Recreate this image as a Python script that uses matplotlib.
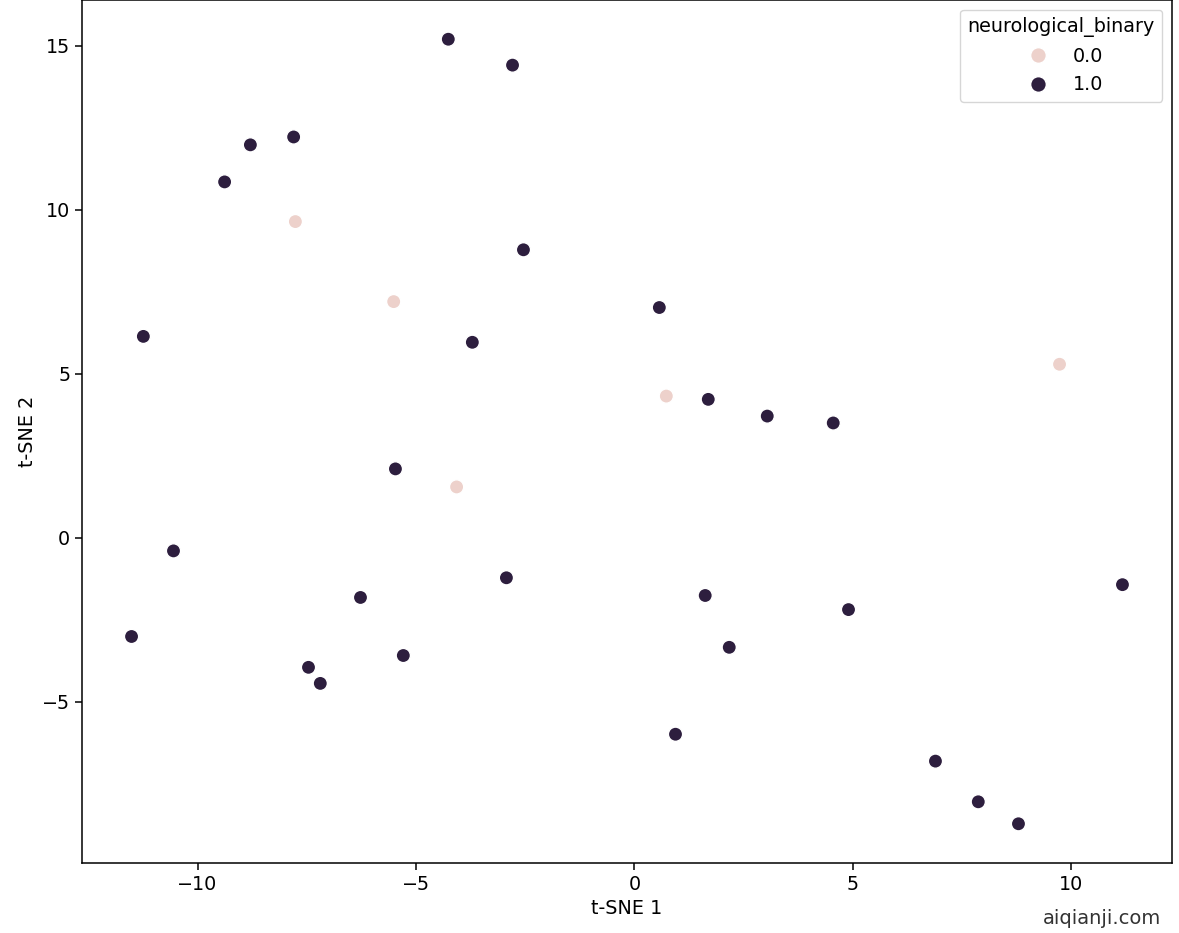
import matplotlib
matplotlib.use("Agg")
import matplotlib.pyplot as plt
import seaborn as sns
import pandas as pd

tsne1 = [-4.26, -2.79, -7.80, -8.79, -9.38, -2.54, 0.57, -11.24, -3.71, 1.69,
         3.04, 4.55, -5.47, -10.55, -2.93, 11.17, -6.27, 1.62, 4.90, -11.51,
         2.17, -5.29, -7.46, -7.19, 0.94, 6.89, 7.87, 8.79,
         -7.76, -5.51, 9.73, 0.73, -4.07]
tsne2 = [15.20, 14.41, 12.22, 11.98, 10.85, 8.78, 7.02, 6.14, 5.96, 4.22,
         3.71, 3.50, 2.10, -0.40, -1.22, -1.43, -1.82, -1.76, -2.19, -3.01,
         -3.34, -3.59, -3.95, -4.44, -5.99, -6.81, -8.05, -8.72,
         9.64, 7.20, 5.29, 4.32, 1.55]
neurological_binary = [1.0] * 28 + [0.0] * 5

df = pd.DataFrame({"t-SNE 1": tsne1, "t-SNE 2": tsne2,
                   "neurological_binary": neurological_binary})

cmap = sns.cubehelix_palette(as_cmap=True)
palette = {0.0: cmap(0.0), 1.0: cmap(1.0)}

fs = 13.8
plt.rcParams["font.size"] = fs
fig = plt.figure(figsize=(11.79, 9.33), dpi=100)
ax = fig.add_axes([82/1179, (933-863)/933, 1090/1179, 863/933])
sns.scatterplot(data=df, x="t-SNE 1", y="t-SNE 2", hue="neurological_binary",
                hue_order=[0.0, 1.0], palette=palette,
                s=105, linewidth=1.0, edgecolor="white", ax=ax)
ax.tick_params(labelsize=fs, width=1.1, length=4.9)
for sp in ax.spines.values():
    sp.set_linewidth(1.1)
ax.set_xlabel("t-SNE 1", fontsize=fs)
ax.set_ylabel("t-SNE 2", fontsize=fs)
leg = ax.legend(title="neurological_binary", loc="upper right",
                fontsize=fs, title_fontsize=fs, markerscale=1.1)
fig.text(0.985, 0.005, "aiqianji.com", ha="right", va="bottom",
         fontsize=14, color="#333333")
fig.savefig("out.png", dpi=100)
